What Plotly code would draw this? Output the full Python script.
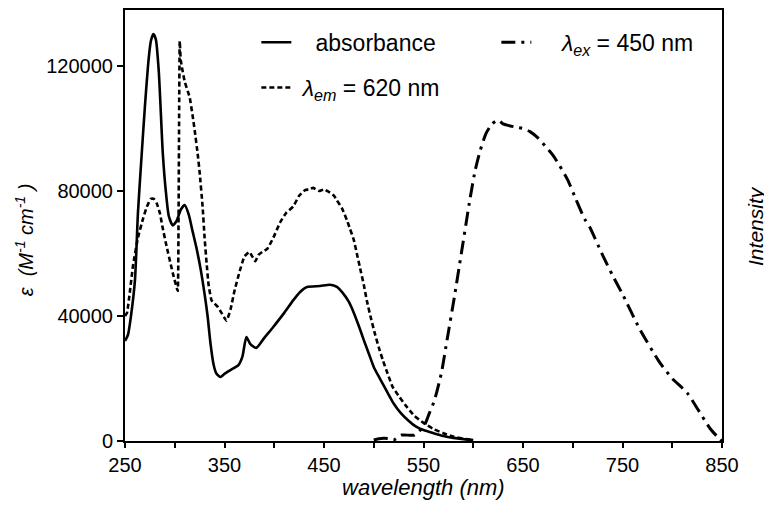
import plotly.graph_objects as go

# ---- data ----
abs_wl = [250, 253, 256, 260, 263, 266, 270, 274, 276, 278.5, 281, 284, 288, 291, 294, 298, 302, 306, 310,
          314, 318, 322, 326, 330, 333, 336, 339, 342, 346, 350, 356, 364, 368, 372, 376, 382, 390, 399,
          410, 419, 426, 433, 446, 456, 463, 469, 475, 480, 485, 490, 495, 500, 507, 514, 520, 527, 535,
          543, 550, 560, 570, 580, 590, 600]
abs_eps = [32000, 34000, 40000, 51500, 73000, 88000, 107000, 123000, 128000, 130200, 128500, 118000, 92000,
           80000, 72000, 69000, 70500, 74000, 75500, 72500, 67000, 61500, 55000, 47000, 40000, 31000, 24500,
           21500, 20500, 21500, 22700, 24300, 27000, 33300, 31000, 29800, 33000, 36500, 41000, 45000, 47700,
           49300, 49600, 50000, 49300, 47300, 44500, 41000, 36800, 32300, 28000, 23700, 19500, 15400, 12000,
           9000, 6500, 4500, 3500, 2500, 1600, 1000, 600, 300]

em_wl = [250, 252, 255, 258, 263, 268, 272, 276, 279, 282, 285, 288, 292, 296, 299, 302, 303, 303.8, 304.5,
         305, 306, 307, 310, 313, 315, 318, 320, 323, 325, 328, 330, 332, 334, 337, 340, 343, 347, 352, 356,
         360, 365, 370, 375, 378, 381, 384, 388, 393, 399, 406, 412, 419, 425, 431, 435, 439, 445, 450, 456,
         460, 463, 468, 473, 476, 480, 483, 486, 490, 493, 497, 501, 505, 509, 514, 519, 526, 533, 541, 550,
         560, 570, 580, 593, 600]
em_int = [40000, 41000, 48000, 56000, 65000, 71000, 75000, 77500, 77500, 76000, 73000, 68000, 62000, 56500,
          52500, 49000, 48000, 70000, 110000, 128000, 122000, 120000, 115000, 112000, 110000, 104000, 99500,
          92000, 86000, 75000, 65000, 57000, 50000, 45000, 44000, 43000, 41000, 38500, 42000, 48000, 54000,
          59000, 60500, 59000, 57500, 59500, 60500, 61500, 65000, 70000, 73000, 75000, 78500, 80300, 80500,
          81000, 80000, 80500, 79500, 78500, 77000, 74500, 70700, 68000, 64300, 60000, 55700, 50000, 45000,
          39500, 34500, 30000, 26000, 21500, 17300, 14000, 11000, 8000, 5800, 3800, 2500, 1400, 600, 200]

ex_wl = [500, 505, 510, 515, 520, 528, 541, 551, 556, 561, 568, 574, 581, 588, 597, 602, 607, 613, 619, 625,
         630, 635, 642, 650, 657, 665, 672, 680, 687, 695, 703, 712, 717, 730, 740, 750, 767, 787, 800, 815,
         825, 838, 845, 850]
ex_int = [300, 700, 900, 800, 300, 1900, 1900, 5100, 9000, 13000, 21800, 33000, 46000, 60000, 78000, 86700,
          93000, 98500, 101500, 102700, 101500, 101000, 100500, 100000, 99000, 97000, 94500, 91500, 88000,
          83500, 77500, 71000, 68500, 59500, 53000, 47000, 36000, 25300, 20000, 15400, 10500, 4000, 1500, 0]

x_ticks = [250, 350, 450, 550, 650, 750, 850]
y_ticks = [0, 40000, 80000, 120000]

FONT = "Liberation Sans, Arial, sans-serif"

fig = go.Figure()
fig.add_trace(go.Scatter(x=abs_wl, y=abs_eps, mode="lines", name="&nbsp;&nbsp;&nbsp;absorbance",
                         line=dict(color="black", width=2.6, shape="spline", smoothing=0.6),
                         legend="legend"))
fig.add_trace(go.Scatter(x=ex_wl, y=ex_int, mode="lines",
                         name="&nbsp;&nbsp;&nbsp;&nbsp;<i>λ<sub>ex</sub></i> = 450 nm",
                         line=dict(color="black", width=3, dash="14px,6px,3px,6px", shape="spline", smoothing=0.6),
                         legend="legend"))
fig.add_trace(go.Scatter(x=em_wl, y=em_int, mode="lines", name="&nbsp;<i>λ<sub>em</sub></i> = 620 nm",
                         line=dict(color="black", width=2.6, dash="5px,3px", shape="spline", smoothing=0.4),
                         legend="legend2"))

fig.update_layout(
    width=764, height=517,
    margin=dict(l=117, r=50, t=2, b=84, autoexpand=False),
    paper_bgcolor="white", plot_bgcolor="white",
    font=dict(family=FONT, color="black", size=20),
    legend=dict(orientation="h", x=0.22, y=0.975, xanchor="left", yanchor="top",
                bgcolor="rgba(0,0,0,0)", entrywidth=195, entrywidthmode="pixels",
                font=dict(size=23, family=FONT)),
    legend2=dict(orientation="h", x=0.22, y=0.87, xanchor="left", yanchor="top",
                 bgcolor="rgba(0,0,0,0)", font=dict(size=23, family=FONT)),
    xaxis=dict(range=[250, 850], tickvals=x_ticks, ticks="outside", ticklen=5, tickwidth=1.5,
               tickcolor="black", showline=True, linecolor="black", linewidth=2, mirror=True,
               showgrid=False, zeroline=False, tickfont=dict(size=20), automargin=False,
               minor=dict(dtick=50, tick0=250, ticks="outside", ticklen=5, tickwidth=1.5, tickcolor="black")),
    yaxis=dict(range=[0, 137920], tickvals=y_ticks, ticks="outside", ticklen=6, tickwidth=1.5,
               tickcolor="black", showline=True, linecolor="black", linewidth=2, mirror=True,
               showgrid=False, zeroline=False, tickfont=dict(size=20), tickformat="d", automargin=False),
    annotations=[
        dict(text="<i>wavelength (nm)</i>", xref="paper", yref="paper", x=0.5, y=-0.108,
             showarrow=False, font=dict(size=22, family=FONT), xanchor="center", yanchor="middle"),
        dict(text="<i>ε  (M<sup>-1</sup> cm<sup>-1</sup> )</i>", xref="paper", yref="paper",
             x=-0.169, y=0.466, textangle=-90, showarrow=False, font=dict(size=20, family=FONT),
             xanchor="center", yanchor="middle"),
        dict(text="<i>Intensity</i>", xref="paper", yref="paper", x=1.057, y=0.499, textangle=-90,
             showarrow=False, font=dict(size=21, family=FONT), xanchor="center", yanchor="middle"),
    ],
)

fig.write_html("out.html")
